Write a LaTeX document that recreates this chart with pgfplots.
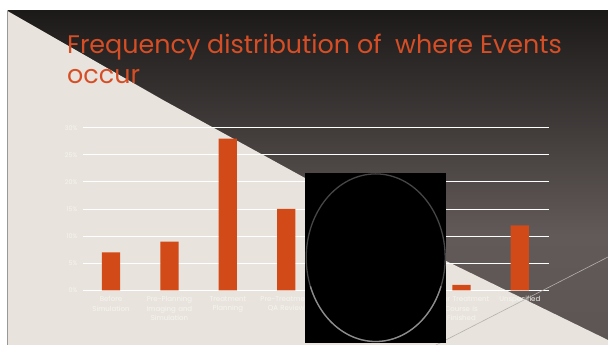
\documentclass[border=0pt]{standalone}
\usepackage{pgfplots}
\pgfplotsset{compat=1.18}
\usepackage{fontspec}
\setmainfont{Poppins}
\definecolor{beige}{RGB}{232,228,221}
\definecolor{darktop}{RGB}{28,26,25}
\definecolor{darkmid}{RGB}{98,90,88}
\definecolor{darkbot}{RGB}{92,85,83}
\definecolor{barc}{RGB}{210,74,23}
\definecolor{titlec}{RGB}{214,78,38}
\definecolor{ticklab}{RGB}{246,244,240}
\definecolor{thinline}{RGB}{180,176,172}
\begin{document}
\begin{tikzpicture}[x=1pt,y=1pt]
\useasboundingbox (0,0) rectangle (608,345);
\fill[white] (0,0) rectangle (608,345);
\shade[top color=darktop, bottom color=darkmid] (7.5,110) rectangle (608,334);
\shade[top color=darkmid, bottom color=darkbot] (7.5,0) rectangle (608,110.5);
\fill[beige] (7.5,334) -- (163,245) -- (305,167) -- (440,87) -- (608,5) -- (608,0) -- (7.5,0) -- cycle;
\draw[gray!80, line width=1pt] (7.3,0) -- (7.3,334);
\node[anchor=base west, inner sep=0, text=titlec, font=\fontsize{25.4}{30}\selectfont] at (67,291.7) {Frequency distribution of\ \ where Events};
\node[anchor=base west, inner sep=0, text=titlec, font=\fontsize{25.4}{30}\selectfont] at (67,261.7) {occur};
\begin{axis}[
  at={(83pt,54.7pt)}, anchor=south west,
  scale only axis, width=466pt, height=162.6pt,
  xmin=-0.48, xmax=7.5, ymin=0, ymax=30,
  ybar, bar width=18.3pt,
  axis line style={draw=none}, major tick length=0pt,
  ytick={0,5,...,30}, yticklabel={\pgfmathprintnumber{\tick}\%},
  ymajorgrids, grid style={white, line width=0.9pt},
  xtick={0,...,7},
  xticklabels={{Before\\Simulation},{Pre-Planning\\Imaging and\\Simulation},{Treatment\\Planning},{Pre-Treatment\\QA Review},{Treatment\\Delivery},{During\\Treatment\\Course},{After Treatment\\Course is\\Finished},{Unspecified}},
  xticklabel style={font=\fontsize{7}{9.4}\selectfont, text=ticklab, align=center, text width=64pt, yshift=-2.5pt},
  yticklabel style={font=\fontsize{6.4}{7}\selectfont, text=ticklab, xshift=-2pt},
  /pgf/number format/assume math mode=true,
  clip=false,
]
\addplot[fill=barc, draw=none] coordinates {(0,7) (1,9) (2,28) (3,15) (4,20) (5,8) (6,1) (7,12)};
\end{axis}
\draw[thinline, line width=0.6pt] (608,88) -- (436,0);
\fill[black] (305,2) rectangle (446,172);
\draw[color={rgb,255:red,70;green,70;blue,70}, line width=1.3pt] (375.7,87.3) ellipse [x radius=69.5, y radius=83.8];
\draw[color={rgb,255:red,140;green,140;blue,140}, line width=1.3pt] (375.7,87.3) ++(200:69.5 and 83.8) arc[start angle=200, end angle=340, x radius=69.5, y radius=83.8];
\end{tikzpicture}
\end{document}
